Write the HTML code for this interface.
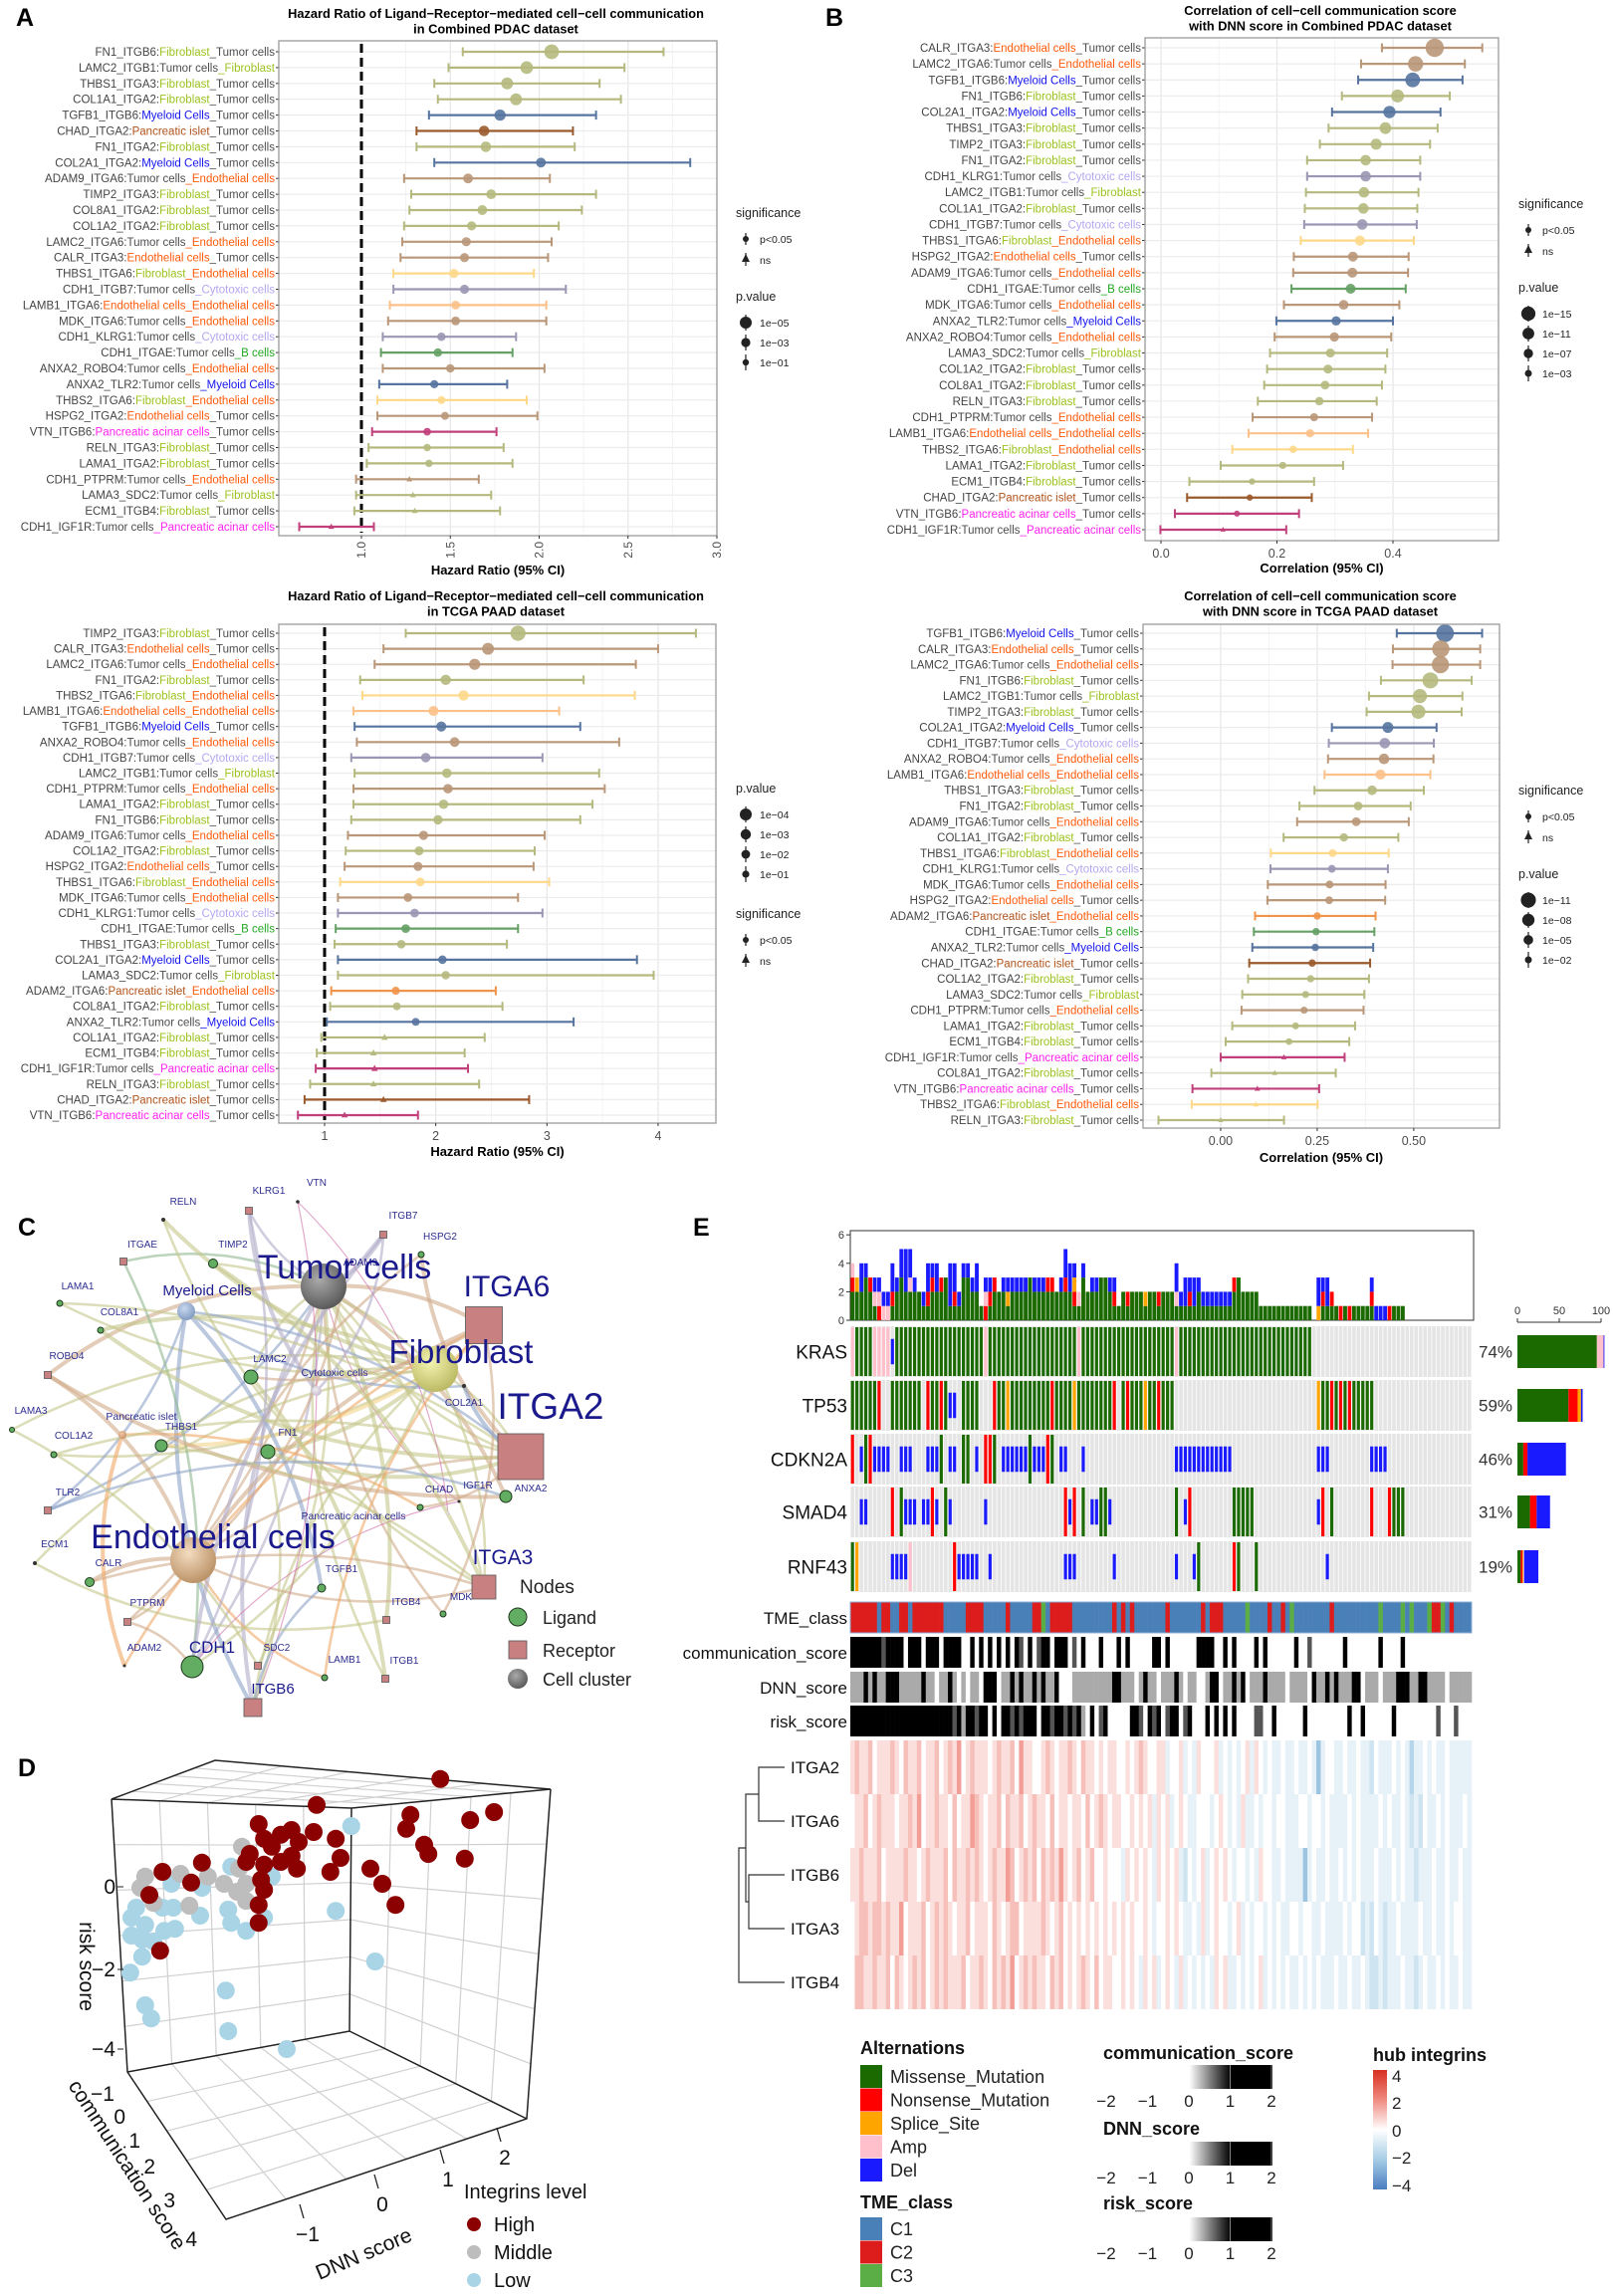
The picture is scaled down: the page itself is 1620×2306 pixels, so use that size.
<!DOCTYPE html>
<html><head><meta charset="utf-8"><title>Integrin figure</title>
<style>
html,body{margin:0;padding:0;background:#fff;}
svg{display:block;font-family:"Liberation Sans",Arial,sans-serif;}
</style></head>
<body>
<svg id="fig" width="1620" height="2306" viewBox="0 0 1620 2306" xmlns="http://www.w3.org/2000/svg">
<rect x="0" y="0" width="1620" height="2306" fill="#fff"/>
<defs>
<radialGradient id="gGray" cx="0.4" cy="0.35" r="0.7"><stop offset="0" stop-color="#aaa"/><stop offset="1" stop-color="#555"/></radialGradient>
<radialGradient id="gYel" cx="0.4" cy="0.35" r="0.7"><stop offset="0" stop-color="#f4f4b0"/><stop offset="1" stop-color="#b8b660"/></radialGradient>
<radialGradient id="gTan" cx="0.4" cy="0.35" r="0.7"><stop offset="0" stop-color="#f4dcc0"/><stop offset="1" stop-color="#b88e62"/></radialGradient>
<radialGradient id="gBlu" cx="0.4" cy="0.35" r="0.7"><stop offset="0" stop-color="#c8d8ee"/><stop offset="1" stop-color="#7e98c0"/></radialGradient>
<radialGradient id="gLav" cx="0.4" cy="0.35" r="0.7"><stop offset="0" stop-color="#eee"/><stop offset="1" stop-color="#c8b8d0"/></radialGradient>
<radialGradient id="gOr" cx="0.4" cy="0.35" r="0.7"><stop offset="0" stop-color="#f0c8a8"/><stop offset="1" stop-color="#c89068"/></radialGradient>
<linearGradient id="gScore" x1="0" x2="1" y1="0" y2="0"><stop offset="0" stop-color="#fff"/><stop offset="0.5" stop-color="#fff"/><stop offset="0.75" stop-color="#000"/><stop offset="1" stop-color="#000"/></linearGradient>
<linearGradient id="gHub" x1="0" x2="0" y1="0" y2="1"><stop offset="0" stop-color="#d7301f"/><stop offset="0.25" stop-color="#ef8a80"/><stop offset="0.5" stop-color="#ffffff"/><stop offset="0.75" stop-color="#a6cde6"/><stop offset="1" stop-color="#4a7cc0"/></linearGradient>
</defs>
</svg>
<script>
// ================= DATA =================
const catName={Fib:'Fibroblast',Tumor:'Tumor cells',Endo:'Endothelial cells',Myel:'Myeloid Cells',Islet:'Pancreatic islet',Cyto:'Cytotoxic cells',B:'B cells',Acinar:'Pancreatic acinar cells'};
const catColor={Fib:'#9cc21f',Tumor:'#4d4d4d',Endo:'#ff5a0a',Myel:'#1414ee',Islet:'#b0521a',Cyto:'#b5a6ee',B:'#22a822',Acinar:'#ff22ee'};
const pairColor={Fib_Tumor:'#b5b97e',Tumor_Fib:'#b5b97e',Myel_Tumor:'#56749f',Tumor_Myel:'#56749f',Islet_Tumor:'#9a5a2c',Tumor_Endo:'#b99778',Endo_Tumor:'#b99778',Fib_Endo:'#fdd889',Tumor_Cyto:'#9b96b3',Endo_Endo:'#fcc089',Tumor_B:'#65a065',Acinar_Tumor:'#c1407c',Tumor_Acinar:'#c1407c',Islet_Endo:'#ef944a'};

const aTopLabels=["FN1_ITGB6|Fib|Tumor","LAMC2_ITGB1|Tumor|Fib","THBS1_ITGA3|Fib|Tumor","COL1A1_ITGA2|Fib|Tumor","TGFB1_ITGB6|Myel|Tumor","CHAD_ITGA2|Islet|Tumor","FN1_ITGA2|Fib|Tumor","COL2A1_ITGA2|Myel|Tumor","ADAM9_ITGA6|Tumor|Endo","TIMP2_ITGA3|Fib|Tumor","COL8A1_ITGA2|Fib|Tumor","COL1A2_ITGA2|Fib|Tumor","LAMC2_ITGA6|Tumor|Endo","CALR_ITGA3|Endo|Tumor","THBS1_ITGA6|Fib|Endo","CDH1_ITGB7|Tumor|Cyto","LAMB1_ITGA6|Endo|Endo","MDK_ITGA6|Tumor|Endo","CDH1_KLRG1|Tumor|Cyto","CDH1_ITGAE|Tumor|B","ANXA2_ROBO4|Tumor|Endo","ANXA2_TLR2|Tumor|Myel","THBS2_ITGA6|Fib|Endo","HSPG2_ITGA2|Endo|Tumor","VTN_ITGB6|Acinar|Tumor","RELN_ITGA3|Fib|Tumor","LAMA1_ITGA2|Fib|Tumor","CDH1_PTPRM|Tumor|Endo","LAMA3_SDC2|Tumor|Fib","ECM1_ITGB4|Fib|Tumor","CDH1_IGF1R|Tumor|Acinar"];
const aTopEst=[2.07,1.93,1.82,1.87,1.78,1.69,1.70,2.01,1.60,1.73,1.68,1.62,1.59,1.58,1.52,1.58,1.53,1.53,1.45,1.43,1.50,1.41,1.45,1.47,1.37,1.37,1.38,1.27,1.29,1.30,0.83];
const aTopLo=[1.57,1.49,1.41,1.43,1.38,1.31,1.31,1.41,1.24,1.28,1.27,1.24,1.23,1.22,1.18,1.18,1.16,1.15,1.12,1.11,1.12,1.10,1.09,1.09,1.06,1.04,1.03,0.97,0.97,0.96,0.65];
const aTopHi=[2.70,2.48,2.34,2.46,2.32,2.19,2.20,2.85,2.06,2.32,2.24,2.11,2.07,2.05,1.97,2.15,2.04,2.04,1.87,1.85,2.03,1.82,1.93,1.99,1.76,1.80,1.85,1.66,1.73,1.78,1.07];
const aTopNlp=[7,5.5,5,5,4.5,4,4,3.5,3.5,3.5,3.5,3,3,3,3,3,2.8,2.8,2.5,2.5,2.5,2.3,2.2,2.2,2,1.8,1.8,1.2,1.2,1.2,1.1];
const aTopTicks=[1.0,1.5,2.0,2.5,3.0];

const aBotLabels=["TIMP2_ITGA3|Fib|Tumor","CALR_ITGA3|Endo|Tumor","LAMC2_ITGA6|Tumor|Endo","FN1_ITGA2|Fib|Tumor","THBS2_ITGA6|Fib|Endo","LAMB1_ITGA6|Endo|Endo","TGFB1_ITGB6|Myel|Tumor","ANXA2_ROBO4|Tumor|Endo","CDH1_ITGB7|Tumor|Cyto","LAMC2_ITGB1|Tumor|Fib","CDH1_PTPRM|Tumor|Endo","LAMA1_ITGA2|Fib|Tumor","FN1_ITGB6|Fib|Tumor","ADAM9_ITGA6|Tumor|Endo","COL1A2_ITGA2|Fib|Tumor","HSPG2_ITGA2|Endo|Tumor","THBS1_ITGA6|Fib|Endo","MDK_ITGA6|Tumor|Endo","CDH1_KLRG1|Tumor|Cyto","CDH1_ITGAE|Tumor|B","THBS1_ITGA3|Fib|Tumor","COL2A1_ITGA2|Myel|Tumor","LAMA3_SDC2|Tumor|Fib","ADAM2_ITGA6|Islet|Endo","COL8A1_ITGA2|Fib|Tumor","ANXA2_TLR2|Tumor|Myel","COL1A1_ITGA2|Fib|Tumor","ECM1_ITGB4|Fib|Tumor","CDH1_IGF1R|Tumor|Acinar","RELN_ITGA3|Fib|Tumor","CHAD_ITGA2|Islet|Tumor","VTN_ITGB6|Acinar|Tumor"];
const aBotEst=[2.74,2.47,2.35,2.09,2.25,1.98,2.05,2.17,1.91,2.10,2.11,2.07,2.02,1.89,1.85,1.84,1.86,1.75,1.81,1.73,1.69,2.06,2.09,1.64,1.65,1.82,1.54,1.44,1.45,1.44,1.53,1.18];
const aBotLo=[1.73,1.53,1.45,1.32,1.34,1.26,1.27,1.29,1.24,1.27,1.26,1.26,1.24,1.21,1.19,1.18,1.14,1.12,1.12,1.10,1.09,1.12,1.12,1.06,1.05,1.02,0.97,0.93,0.92,0.87,0.82,0.76];
const aBotHi=[4.34,4.00,3.80,3.33,3.79,3.11,3.30,3.65,2.96,3.47,3.52,3.41,3.30,2.98,2.89,2.88,3.02,2.74,2.96,2.74,2.64,3.81,3.96,2.54,2.60,3.24,2.44,2.26,2.29,2.39,2.84,1.84];
const aBotNlp=[6,4,3.5,3,3,2.8,2.8,2.6,2.5,2.5,2.5,2.5,2.4,2.3,2.2,2.2,2.0,2.0,2.0,2.0,1.9,1.9,1.8,1.6,1.5,1.4,1.2,1.2,1.2,1.1,1.1,1.0];
const aBotTicks=[1,2,3,4];

const bTopLabels=["CALR_ITGA3|Endo|Tumor","LAMC2_ITGA6|Tumor|Endo","TGFB1_ITGB6|Myel|Tumor","FN1_ITGB6|Fib|Tumor","COL2A1_ITGA2|Myel|Tumor","THBS1_ITGA3|Fib|Tumor","TIMP2_ITGA3|Fib|Tumor","FN1_ITGA2|Fib|Tumor","CDH1_KLRG1|Tumor|Cyto","LAMC2_ITGB1|Tumor|Fib","COL1A1_ITGA2|Fib|Tumor","CDH1_ITGB7|Tumor|Cyto","THBS1_ITGA6|Fib|Endo","HSPG2_ITGA2|Endo|Tumor","ADAM9_ITGA6|Tumor|Endo","CDH1_ITGAE|Tumor|B","MDK_ITGA6|Tumor|Endo","ANXA2_TLR2|Tumor|Myel","ANXA2_ROBO4|Tumor|Endo","LAMA3_SDC2|Tumor|Fib","COL1A2_ITGA2|Fib|Tumor","COL8A1_ITGA2|Fib|Tumor","RELN_ITGA3|Fib|Tumor","CDH1_PTPRM|Tumor|Endo","LAMB1_ITGA6|Endo|Endo","THBS2_ITGA6|Fib|Endo","LAMA1_ITGA2|Fib|Tumor","ECM1_ITGB4|Fib|Tumor","CHAD_ITGA2|Islet|Tumor","VTN_ITGB6|Acinar|Tumor","CDH1_IGF1R|Tumor|Acinar"];
const bTopEst=[0.472,0.439,0.434,0.408,0.394,0.387,0.371,0.353,0.353,0.350,0.349,0.347,0.343,0.331,0.330,0.327,0.315,0.302,0.299,0.292,0.288,0.283,0.273,0.264,0.257,0.228,0.210,0.157,0.153,0.131,0.107];
const bTopLo=[0.381,0.345,0.340,0.312,0.295,0.289,0.274,0.252,0.252,0.250,0.248,0.247,0.241,0.229,0.228,0.225,0.212,0.199,0.196,0.188,0.183,0.178,0.167,0.158,0.151,0.123,0.103,0.049,0.045,0.024,-0.001];
const bTopHi=[0.554,0.524,0.520,0.498,0.482,0.477,0.464,0.447,0.447,0.444,0.442,0.441,0.436,0.427,0.426,0.422,0.411,0.400,0.397,0.390,0.387,0.381,0.372,0.364,0.357,0.331,0.314,0.264,0.260,0.238,0.216];
const bTopNlp=[22,17,16,13,12,11,10,9,9,9,9,9,8.5,8,8,8,7.5,7,7,6.5,6.5,6,5.5,5,5,4,3.5,2,2,1.6,1.2];
const bTopTicks=[0.0,0.2,0.4];

const bBotLabels=["TGFB1_ITGB6|Myel|Tumor","CALR_ITGA3|Endo|Tumor","LAMC2_ITGA6|Tumor|Endo","FN1_ITGB6|Fib|Tumor","LAMC2_ITGB1|Tumor|Fib","TIMP2_ITGA3|Fib|Tumor","COL2A1_ITGA2|Myel|Tumor","CDH1_ITGB7|Tumor|Cyto","ANXA2_ROBO4|Tumor|Endo","LAMB1_ITGA6|Endo|Endo","THBS1_ITGA3|Fib|Tumor","FN1_ITGA2|Fib|Tumor","ADAM9_ITGA6|Tumor|Endo","COL1A1_ITGA2|Fib|Tumor","THBS1_ITGA6|Fib|Endo","CDH1_KLRG1|Tumor|Cyto","MDK_ITGA6|Tumor|Endo","HSPG2_ITGA2|Endo|Tumor","ADAM2_ITGA6|Islet|Endo","CDH1_ITGAE|Tumor|B","ANXA2_TLR2|Tumor|Myel","CHAD_ITGA2|Islet|Tumor","COL1A2_ITGA2|Fib|Tumor","LAMA3_SDC2|Tumor|Fib","CDH1_PTPRM|Tumor|Endo","LAMA1_ITGA2|Fib|Tumor","ECM1_ITGB4|Fib|Tumor","CDH1_IGF1R|Tumor|Acinar","COL8A1_ITGA2|Fib|Tumor","VTN_ITGB6|Acinar|Tumor","THBS2_ITGA6|Fib|Endo","RELN_ITGA3|Fib|Tumor"];
const bBotEst=[0.581,0.570,0.569,0.543,0.516,0.512,0.433,0.425,0.423,0.414,0.392,0.356,0.351,0.319,0.290,0.288,0.282,0.281,0.250,0.247,0.245,0.237,0.233,0.220,0.216,0.194,0.177,0.164,0.140,0.095,0.091,0.000];
const bBotLo=[0.456,0.446,0.445,0.415,0.384,0.378,0.288,0.280,0.278,0.269,0.243,0.204,0.198,0.163,0.130,0.129,0.122,0.121,0.089,0.086,0.082,0.074,0.071,0.056,0.054,0.030,0.013,0.000,-0.024,-0.073,-0.075,-0.161];
const bBotHi=[0.677,0.672,0.672,0.650,0.626,0.624,0.559,0.552,0.551,0.543,0.526,0.492,0.487,0.460,0.435,0.433,0.427,0.426,0.401,0.398,0.395,0.387,0.384,0.372,0.370,0.348,0.333,0.321,0.298,0.255,0.251,0.164];
const bBotNlp=[14,13.5,13.5,12,10,10,6.5,6,6,5.5,5,4,4,3.5,3,3,3,3,2.5,2.5,2.5,2.5,2.3,2.2,2.2,2,1.8,1.2,1.2,1.2,1.2,1.1];
const bBotTicks=[0.00,0.25,0.50];

// Panel D data
const dnnScore=[2.37,0.30,1.87,2.87,3.27,-0.67,1.80,0.25,-0.12,0.62,2.10,-0.58,-0.30,0.00,-0.45,2.17,0.70,2.78,-0.12,-0.88,-0.58,-1.62,-0.03,0.53,1.20,-2.28,-0.63,1.40,-1.80,-2.50,-0.58,1.62,-0.67,-0.67,-2.32,-0.82,-0.30,
 -0.95,-2.57,-1.98,-1.52,-1.25,-2.65,-1.03,-0.88,-2.43,-1.83,-0.88,-1.00,
 0.88,-0.45,-1.13,-2.13,-1.62,-2.72,-2.28,-2.10,-1.65,-2.80,0.62,-1.18,-1.13,-0.58,-2.57,-2.80,-2.25,-2.07,-0.88,-2.62,-2.43,-2.62,1.28,-2.82,-1.22,-2.57,-2.47,-1.18,-0.20];
const riskScore=[2.83,2.18,1.93,1.80,2.00,1.70,1.58,1.50,1.55,1.33,1.18,1.33,1.43,1.25,1.13,0.95,0.85,0.83,0.90,0.75,0.68,0.73,0.58,0.50,0.58,0.50,0.30,0.20,0.23,-0.08,0.05,-0.33,-0.33,-0.78,-1.48,0.95,0.75,
 1.13,0.38,0.45,0.38,0.20,0.10,0.00,0.20,-0.28,-0.35,-0.23,0.58,
 1.65,0.38,0.63,0.20,0.10,-0.40,-0.40,-0.40,-0.60,-0.65,-0.48,-0.45,-0.78,-0.65,-0.83,-1.10,-0.98,-0.93,-0.98,-1.20,-1.25,-1.63,-1.75,-2.03,-2.48,-2.85,-3.18,-3.50,-3.95];
const integrinLevel="HHHHHHHHHHHHHHHHHHHHHHHHHHHHHHHHHHHHHMMMMMMMMMMMMLLLLLLLLLLLLLLLLLLLLLLLLLLLLL";

// Panel E data
const geneNames=['KRAS','TP53','CDKN2A','SMAD4','RNF43'];
const genePct=['74%','59%','46%','31%','19%'];
const krasAlt="AMMMMAAAAD"+"MMMMMMMMMM"+"MMMMMMMMMM"+"AMMMMMMMMM"+"MMMMMMMMMM"+"MAMMMMMMMM"+"MMMMMMMMMM"+"MMMAMMMMMM"+"MMMMMMMMMM"+"MMMMMMMMMM"+"MMMM......"+".........."+".........."+"..........";
const tp53Alt="MMMMMMN..M"+"MMMMMM.NMM"+"NMDD.MMMM."+"..NMMSMMMM"+"MMMMMNMMMM"+"SMMMMMMMMN"+".MNMMMSMMN"+"MMM......."+".........."+".........."+".....SMMNM"+"NMNMMMMM.."+".........."+"..........";
const cdkn2aAlt="N.DMNDDDD."+".DDD...DDD"+"M.DD.MM.D."+"NNM.DDDDDD"+"MDDDNM.DD."+"..D......."+".........."+"...DDDDDDD"+"DDDDDD...."+".........."+".....DDD.."+".......DDD"+"D........."+"..........";
const smad4Alt="..DD.....N"+".MDDD.DDND"+".MD......."+"D........."+"........ND"+"N.M.DDMMD."+".........."+"...M.DN..."+"......MMMM"+"M........."+".....DN.M."+".......N.."+".NMMM....."+"..........";
const rnf43Alt="MS.......D"+"DDDA......"+"...NDDDDD."+".D........"+"........DD"+"D........D"+".........."+"...D...DM."+"......NM.."+".M........"+".......D.."+".........."+".........."+"..........";
const tmeClass="2222221221"+"1221222222"+"2111112222"+"1111121111"+"1223122222"+"1111111112"+"1212111111"+"1211111112"+"1222111113"+"1111211213"+"1111111121"+"1111111113"+"1111313111"+"3223121111";
const commScore="9979987597"+"9909970699"+"3979930837"+"3907390950"+"9359608790"+"5390039300"+"9390030369"+"0830300099"+"9930939300"+"0939300300"+"9305330000"+"0630003009"+"3000730003"+"0300000000";
const dnnRow="4449494489"+"9444449443"+"4494040440"+"9990449494"+"4949449333"+"4444444449"+"9444049440"+"4449404403"+"4990449493"+"4449444404"+"4440944949"+"4449904440"+"4449994499"+"4444044444";
const riskRow="9999999999"+"9999979999"+"9975749957"+"9090995959"+"9909959959"+"5940905930"+"3339950959"+"3599059300"+"9393939303"+"0550393000"+"3390330300"+"0390390300"+"3390300000"+"0050005000";
const hubNames=['ITGA2','ITGA6','ITGB6','ITGA3','ITGB4'];
const hubITGA2="5655645556"+"5465564556"+"4565745655"+"5456556475"+"5445654556"+"5465545455"+"4454565445"+"5344534354"+"4453434345"+"3543433433"+"4334303443"+"3433433243"+"3343431334"+"3433433333";
const hubITGA6="4556456555"+"4556574556"+"5546455765"+"4556465564"+"5655464554"+"5546456545"+"5445454535"+"4534543344"+"4345434353"+"3434434433"+"3443443433"+"3343433334"+"3433432324"+"3343433343";
const hubITGB6="5565556455"+"5565545655"+"5646556565"+"4565576456"+"5646565754"+"5645644544"+"4354545435"+"4545324345"+"3454543443"+"4354433433"+"3303433433"+"4343433343"+"3343433233"+"3433433433";
const hubITGA3="4566566565"+"5745556456"+"5654556455"+"5465456645"+"5556545645"+"4545454545"+"4545445434"+"4545433435"+"3454434534"+"3443434334"+"4344334333"+"3434423243"+"2334333343"+"3433434433";
const hubITGB4="4665565564"+"6545656456"+"5655564556"+"5465657456"+"5655465645"+"4565464554"+"4545435453"+"4543534343"+"4354533434"+"3453434343"+"3434343334"+"3343343223"+"2333433234"+"3343433433";

// ================= HELPERS =================
const NS='http://www.w3.org/2000/svg';
const svg=document.getElementById('fig');
function mk(tag,attrs,parent){const e=document.createElementNS(NS,tag);for(const k in attrs)e.setAttribute(k,attrs[k]);(parent||svg).appendChild(e);return e;}
function txt(s,attrs,parent){const e=mk('text',attrs,parent);e.textContent=s;return e;}

[['A',16,26],['B',829,26],['C',18,1241],['D',18,1784],['E',696,1241]].forEach(p=>{
  const t=txt(p[0],{x:p[1],y:p[2],'font-size':25,'font-weight':'bold',fill:'#000'});
  
  
});

// ================= FOREST PLOTS =================
function forest(cfg){
  const g=mk('g',{});
  
  
  const [L,T,R,B]=cfg.box;
  const sx=v=>L+(v-cfg.xmin)/(cfg.xmax-cfg.xmin)*(R-L);
  const n=cfg.labels.length;
  const sy=i=>cfg.y0+(cfg.y1-cfg.y0)*i/(n-1);
  const bg=mk('rect',{x:L,y:T,width:R-L,height:B-T,fill:'#fff'},g);
  
  
  for(let k=0;k<cfg.ticks.length-1;k++){
    const m=(cfg.ticks[k]+cfg.ticks[k+1])/2;
    const gl=mk('line',{x1:sx(m),x2:sx(m),y1:T,y2:B,stroke:'#f3f3f3','stroke-width':1},g);
    
    
  }
  cfg.ticks.forEach(t=>{
    const gl=mk('line',{x1:sx(t),x2:sx(t),y1:T,y2:B,stroke:'#e6e6e6','stroke-width':1.2},g);
    
    
  });
  for(let i=0;i<n;i++){
    const hl=mk('line',{x1:L,x2:R,y1:sy(i),y2:sy(i),stroke:'#ececec','stroke-width':1.2},g);
    
    
  }
  if(cfg.ref!==undefined){
    const rl=mk('line',{x1:sx(cfg.ref),x2:sx(cfg.ref),y1:T+3,y2:B-3,stroke:'#000','stroke-width':3,'stroke-dasharray':'9,5'},g);
    
    
  }
  for(let i=0;i<n;i++){
    const parts=cfg.labels[i].split('|');
    const col=pairColor[parts[1]+'_'+parts[2]]||'#999';
    const y=sy(i);
    const row=mk('g',{},g);
    
    
    const ci=mk('line',{x1:sx(cfg.lo[i]),x2:sx(cfg.hi[i]),y1:y,y2:y,stroke:col,'stroke-width':2.2},row);
    
    
    [cfg.lo[i],cfg.hi[i]].forEach(v=>{
      const c=mk('line',{x1:sx(v),x2:sx(v),y1:y-4.5,y2:y+4.5,stroke:col,'stroke-width':2},row);
      
      
    });
    const r=cfg.rad(cfg.nlp[i]);
    const px=sx(cfg.est[i]);
    let pt;
    if(cfg.nlp[i]>=1.3){
      pt=mk('circle',{cx:px,cy:y,r:r,fill:col,'fill-opacity':0.9},row);
    }else{
      const h=r*1.6;
      pt=mk('polygon',{points:`${px},${y-h*0.6} ${px-h*0.55},${y+h*0.4} ${px+h*0.55},${y+h*0.4}`,fill:col},row);
    }
    
    
    const tm=mk('line',{x1:L-3,x2:L,y1:y,y2:y,stroke:'#333','stroke-width':1},row);
    
    
    const lab=mk('text',{x:L-4,y:y+4,'text-anchor':'end','font-size':11.5,fill:'#444'},row);
    
    
    const t1=mk('tspan',{},lab); t1.textContent=parts[0]+':';
    const t2=mk('tspan',{fill:catColor[parts[1]]},lab); t2.textContent=catName[parts[1]];
    const t3=mk('tspan',{fill:catColor[parts[2]]},lab); t3.textContent='_'+catName[parts[2]];
  }
  const border=mk('rect',{x:L,y:T,width:R-L,height:B-T,fill:'none',stroke:'#9a9a9a','stroke-width':1.3},g);
  
  
  cfg.ticks.forEach((t,k)=>{
    const tk=mk('line',{x1:sx(t),x2:sx(t),y1:B,y2:B+3,stroke:'#333','stroke-width':1},g);
    
    
    let tl;
    if(cfg.rotate){
      tl=txt(cfg.tickText[k],{x:sx(t)+4,y:B+6,'text-anchor':'end','font-size':12,fill:'#4d4d4d',transform:`rotate(-90 ${sx(t)+4} ${B+6})`},g);
    }else{
      tl=txt(cfg.tickText[k],{x:sx(t),y:B+17,'text-anchor':'middle','font-size':12.5,fill:'#4d4d4d'},g);
    }
    
    
  });
  const at=txt(cfg.xtitle,{x:(L+R)/2,y:cfg.xtitleY,'text-anchor':'middle','font-size':13,'font-weight':'bold',fill:'#000'},g);
  
  
  cfg.title.forEach((s,k)=>{
    const tt=txt(s,{x:cfg.titleX,y:cfg.titleY+k*15.5,'text-anchor':'middle','font-size':12.8,'font-weight':'bold',fill:'#000'},g);
    
    
  });
  const lx=cfg.legX;
  function sigLegend(y){
    const h=txt('significance',{x:lx,y:y,'font-size':12.5,fill:'#222'},g);
    
    
    const e1=mk('g',{},g);
    
    
    mk('line',{x1:lx+10,x2:lx+10,y1:y+16,y2:y+28,stroke:'#222','stroke-width':1.2},e1);
    mk('circle',{cx:lx+10,cy:y+22,r:3,fill:'#222'},e1);
    txt('p<0.05',{x:lx+24,y:y+26,'font-size':10.5,fill:'#222'},e1);
    const e2=mk('g',{},g);
    
    
    mk('line',{x1:lx+10,x2:lx+10,y1:y+36,y2:y+49,stroke:'#222','stroke-width':1.2},e2);
    mk('polygon',{points:`${lx+10},${y+37} ${lx+6},${y+45} ${lx+14},${y+45}`,fill:'#222'},e2);
    txt('ns',{x:lx+24,y:y+47,'font-size':10.5,fill:'#222'},e2);
  }
  function pLegend(y){
    const h=txt('p.value',{x:lx,y:y,'font-size':12.5,fill:'#222'},g);
    
    
    cfg.pLeg.forEach((v,k)=>{
      const yy=y+22+k*20;
      const e=mk('g',{},g);
      
      
      mk('line',{x1:lx+10,x2:lx+10,y1:yy-8,y2:yy+8,stroke:'#222','stroke-width':1.2},e);
      mk('circle',{cx:lx+10,cy:yy,r:cfg.rad(v),fill:'#222'},e);
      txt('1e\u2212'+String(v).padStart(2,'0'),{x:lx+24,y:yy+4,'font-size':10.5,fill:'#222'},e);
    });
  }
  if(cfg.sigFirst){sigLegend(cfg.legY);pLegend(cfg.legY+84);}else{pLegend(cfg.legY);sigLegend(cfg.legY+126);}
}

forest({name:'forest-hr-combined',box:[280,41,720,538],xmin:0.535,xmax:3.0,y0:52,y1:529,labels:aTopLabels,est:aTopEst,lo:aTopLo,hi:aTopHi,nlp:aTopNlp,ticks:aTopTicks,tickText:['1.0','1.5','2.0','2.5','3.0'],rotate:true,ref:1,rad:v=>2.5+0.7*v,xtitle:'Hazard Ratio (95% CI)',xtitleY:577,title:['Hazard Ratio of Ligand\u2212Receptor\u2212mediated cell\u2212cell communication','in Combined PDAC dataset'],titleX:498,titleY:18,legX:739,legY:218,sigFirst:true,pLeg:[5,3,1]});
forest({name:'forest-hr-tcga',box:[280,627,719,1128],xmin:0.588,xmax:4.52,y0:636,y1:1120,labels:aBotLabels,est:aBotEst,lo:aBotLo,hi:aBotHi,nlp:aBotNlp,ticks:aBotTicks,tickText:['1','2','3','4'],rotate:false,ref:1,rad:v=>2.8+0.8*v,xtitle:'Hazard Ratio (95% CI)',xtitleY:1161,title:['Hazard Ratio of Ligand\u2212Receptor\u2212mediated cell\u2212cell communication','in TCGA PAAD dataset'],titleX:498,titleY:603,legX:739,legY:796,sigFirst:false,pLeg:[4,3,2,1]});
forest({name:'forest-cor-combined',box:[1150,38,1505,543],xmin:-0.0275,xmax:0.582,y0:48,y1:532,labels:bTopLabels,est:bTopEst,lo:bTopLo,hi:bTopHi,nlp:bTopNlp,ticks:bTopTicks,tickText:['0.0','0.2','0.4'],rotate:false,rad:v=>2.6+0.3*v,xtitle:'Correlation (95% CI)',xtitleY:575,title:['Correlation of cell\u2212cell communication score','with DNN score in Combined PDAC dataset'],titleX:1326,titleY:15,legX:1525,legY:209,sigFirst:true,pLeg:[15,11,7,3]});
forest({name:'forest-cor-tcga',box:[1148,627,1506,1133],xmin:-0.201,xmax:0.722,y0:636,y1:1125,labels:bBotLabels,est:bBotEst,lo:bBotLo,hi:bBotHi,nlp:bBotNlp,ticks:bBotTicks,tickText:['0.00','0.25','0.50'],rotate:false,rad:v=>2.6+0.45*v,xtitle:'Correlation (95% CI)',xtitleY:1167,title:['Correlation of cell\u2212cell communication score','with DNN score in TCGA PAAD dataset'],titleX:1326,titleY:603,legX:1525,legY:798,sigFirst:true,pLeg:[11,8,5,2]});

// ================= PANEL C NETWORK =================
const netNodes=[
 ['VTN',299,1207,'dot',1.8,318,1191,10],['KLRG1',250,1216,'rec',3.5,270,1199,10],['RELN',164,1225,'dot',2,184,1210,10],
 ['ITGB7',385,1240,'rec',3.5,405,1224,10],['HSPG2',423,1260,'lig',3,442,1245,10],['ITGAE',124,1267,'rec',3.5,143,1253,10],
 ['TIMP2',214,1269,'lig',4.5,234,1253,10],['ADAM9',345,1285,'dot',2,362,1271,10],['LAMA1',60,1309,'lig',3,78,1295,10],
 ['COL8A1',101,1336,'lig',3,120,1321,10],['ROBO4',48,1381,'rec',3.5,67,1365,10],['LAMC2',252,1383,'lig',7,271,1368,10],
 ['COL2A1',466,1392,'dot',2,466,1412,10],['LAMA3',12,1436,'lig',2.5,31,1420,10],['THBS1',162,1452,'lig',6,182,1436,10],
 ['COL1A2',54,1461,'lig',3,74,1445,10],['FN1',269,1458,'lig',7,289,1442,10],['TLR2',48,1517,'rec',3.5,68,1502,10],
 ['CHAD',422,1514,'lig',3,441,1499,10],['IGF1R',461,1508,'dot',1.5,480,1495,10],['ANXA2',508,1503,'lig',6,533,1498,10],
 ['ECM1',35,1570,'dot',2,55,1554,10],['CALR',90,1589,'lig',4.5,109,1573,10],['TGFB1',323,1595,'lig',4,343,1579,10],
 ['ITGB4',388,1627,'rec',3.5,408,1612,10],['MDK',445,1621,'lig',3,463,1607,10],['PTPRM',128,1629,'rec',3.5,148,1613,10],
 ['ADAM2',125,1673,'dot',1.5,145,1658,10],['SDC2',259,1673,'rec',3.5,278,1658,10],['LAMB1',326,1685,'lig',3,346,1670,10],
 ['ITGB1',387,1686,'rec',3.5,406,1671,10],
 ['CDH1',193,1674,'lig',11,213,1660,17],['ITGB6',254,1715,'rec',9,274,1701,15],
 ['ITGA6',486,1331,'rec',18.5,509,1302,30],['ITGA2',523,1463,'rec',23,553,1425,37],['ITGA3',486,1594,'rec',12,505,1571,21],
 ['Myeloid Cells',187,1317,'cellB',9,208,1301,15],['Cytotoxic cells',318,1397,'cellL',5,336,1382,10.5],
 ['Pancreatic islet',123,1441,'cellO',4,142,1426,10.5],['Pancreatic acinar cells',450,1520,'cellL',1.5,355,1526,10.5],
 ['Tumor cells',325,1292,'cellG',23,346,1284,34],['Fibroblast',437,1375,'cellY',23,463,1369,33],['Endothelial cells',194,1567,'cellT',23,214,1555,34]
];
const netEdges=[['Tumor cells','ITGA6','E'],['Tumor cells','ITGA2','F'],['Tumor cells','ITGA3','F'],['Tumor cells','ITGB6','T'],['Tumor cells','CDH1','T'],['Tumor cells','LAMC2','F'],['Tumor cells','ANXA2','E'],['Tumor cells','MDK','E'],['Tumor cells','KLRG1','T'],['Tumor cells','ITGB7','T'],['Tumor cells','SDC2','F'],['Tumor cells','IGF1R','P'],['Tumor cells','ITGB4','F'],['Tumor cells','ITGB1','F'],['Tumor cells','PTPRM','E'],['Tumor cells','ROBO4','E'],['Tumor cells','TLR2','M'],['Tumor cells','ITGAE','G'],['Fibroblast','FN1','F'],['Fibroblast','THBS1','F'],['Fibroblast','COL1A2','F'],['Fibroblast','COL8A1','F'],['Fibroblast','LAMA1','F'],['Fibroblast','TIMP2','F'],['Fibroblast','RELN','F'],['Fibroblast','ECM1','F'],['Fibroblast','ITGA2','F'],['Fibroblast','ITGA6','Y'],['Fibroblast','ITGA3','F'],['Fibroblast','LAMA3','F'],['Fibroblast','THBS1','Y'],['Fibroblast','ITGB6','F'],['Fibroblast','CDH1','F'],['Endothelial cells','CALR','E'],['Endothelial cells','HSPG2','E'],['Endothelial cells','LAMB1','O'],['Endothelial cells','ITGA6','E'],['Endothelial cells','ITGA3','E'],['Endothelial cells','ITGA2','E'],['Endothelial cells','ROBO4','E'],['Endothelial cells','PTPRM','E'],['Endothelial cells','ADAM9','E'],['Myeloid Cells','TGFB1','M'],['Myeloid Cells','COL2A1','M'],['Myeloid Cells','TLR2','M'],['Myeloid Cells','ITGB6','M'],['Myeloid Cells','ITGA2','M'],['Pancreatic acinar cells','VTN','P'],['VTN','ITGB6','P'],['IGF1R','CDH1','P'],['Pancreatic islet','CHAD','O'],['Pancreatic islet','ADAM2','O'],['ADAM2','ITGA6','O'],['CHAD','ITGA2','E'],['Cytotoxic cells','KLRG1','T'],['Cytotoxic cells','ITGB7','T'],['ITGAE','CDH1','G'],['FN1','ITGA2','F'],['FN1','ITGB6','F'],['LAMC2','ITGA6','E'],['LAMC2','ITGB1','F'],['TGFB1','ITGB6','M'],['COL1A2','ITGA2','F'],['COL8A1','ITGA2','F'],['LAMA1','ITGA2','F'],['RELN','ITGA3','F'],['TIMP2','ITGA3','F'],['ECM1','ITGB4','F'],['CALR','ITGA3','E'],['HSPG2','ITGA2','E'],['LAMB1','ITGA6','O'],['MDK','ITGA6','E'],['ANXA2','ROBO4','E'],['ANXA2','TLR2','M'],['THBS1','ITGA3','F'],['COL2A1','ITGA2','M'],['LAMA3','SDC2','F'],['CDH1','KLRG1','T'],['CDH1','ITGB7','T'],['CDH1','PTPRM','E']];
const edgeColor={T:'#b0acc8',F:'#c4c68a',E:'#d0aa88',M:'#8ea4c8',Y:'#f4d48c',P:'#d070a8',G:'#8fb88f',O:'#f0a868'};
(function(){
  const g=mk('g',{});
  
  
  const pos={};netNodes.forEach(n=>pos[n[0]]=n);
  const eg=mk('g',{},g);
  
  
  netEdges.forEach((e,k)=>{
    const a=pos[e[0]],b=pos[e[1]];if(!a||!b)return;
    const dx=b[1]-a[1],dy=b[2]-a[2];const s=(k%2?0.18:-0.15);
    const cx=(a[1]+b[1])/2-dy*s,cy=(a[2]+b[2])/2+dx*s;
    const w=e[2]==='P'?1.2:(k%3===0?4:2.6);
    const p=mk('path',{d:`M${a[1]},${a[2]} Q${cx},${cy} ${b[1]},${b[2]}`,fill:'none',stroke:edgeColor[e[2]],'stroke-width':w,'stroke-opacity':0.6},eg);
    
    
  });
  const fills={cellG:'url(#gGray)',cellY:'url(#gYel)',cellT:'url(#gTan)',cellB:'url(#gBlu)',cellL:'url(#gLav)',cellO:'url(#gOr)'};
  netNodes.forEach(n=>{
    const [name,x,y,type,r,lx,ly,fs]=n;
    const ng=mk('g',{},g);
    
    
    if(type==='rec'){mk('rect',{x:x-r,y:y-r,width:2*r,height:2*r,fill:'#c98080',stroke:'#555','stroke-width':0.8},ng);}
    else if(type==='lig'){mk('circle',{cx:x,cy:y,r:r,fill:'#62ad62',stroke:'#1e3a1e','stroke-width':1},ng);}
    else if(type==='dot'){mk('circle',{cx:x,cy:y,r:r,fill:'#333'},ng);}
    else{mk('circle',{cx:x,cy:y,r:r,fill:fills[type]},ng);}
    const big=fs>=14;
    txt(name,{x:lx,y:ly,'text-anchor':'middle','font-size':fs,fill:big?'#1a1a8c':'#2e2e90'},ng);
  });
  const lg=mk('g',{},g);
  
  
  txt('Nodes',{x:522,y:1600,'font-size':19,fill:'#222'},lg);
  mk('circle',{cx:520,cy:1624,r:9,fill:'#62ad62',stroke:'#1e3a1e','stroke-width':1},lg);
  txt('Ligand',{x:545,y:1631,'font-size':18,fill:'#222'},lg);
  mk('rect',{x:511,y:1648,width:18,height:18,fill:'#c98080',stroke:'#555','stroke-width':0.8},lg);
  txt('Receptor',{x:545,y:1664,'font-size':18,fill:'#222'},lg);
  mk('circle',{cx:520,cy:1686,r:10,fill:'url(#gGray)'},lg);
  txt('Cell cluster',{x:545,y:1693,'font-size':18,fill:'#222'},lg);
})();

// ================= PANEL D 3D SCATTER =================
(function(){
  const g=mk('g',{});
  
  
  const lerp=(a,b,t)=>[a[0]+(b[0]-a[0])*t,a[1]+(b[1]-a[1])*t];
  function wall(p0,p1,p2,p3,nu,nv,name){
    const wg=mk('g',{},g);
    
    
    for(let k=1;k<nu;k++){const a=lerp(p0,p1,k/nu),b=lerp(p3,p2,k/nu);mk('line',{x1:a[0],y1:a[1],x2:b[0],y2:b[1],stroke:'#d0d0d0','stroke-width':1.2},wg);}
    for(let k=1;k<nv;k++){const a=lerp(p0,p3,k/nv),b=lerp(p1,p2,k/nv);mk('line',{x1:a[0],y1:a[1],x2:b[0],y2:b[1],stroke:'#d0d0d0','stroke-width':1.2},wg);}
  }
  const TL=[112,1807],TB=[216,1768],TR=[553,1797],TM=[353,1816],BL=[128,2081],BM=[351,2040],BR=[529,2128],BF=[227,2229];
  wall(TL,TM,BM,BL,5,6,'grid-left-wall');
  wall(TM,TR,BR,BM,5,6,'grid-right-wall');
  wall(BL,BM,BR,BF,5,5,'grid-floor');
  wall(TL,TB,TR,TM,5,5,'grid-top');
  const ol=mk('path',{d:`M${TL} L${TB} L${TR} L${TM} Z M${TL} L${BL} L${BF} L${BR} L${TR} M${TM} L${BM} M${BL} L${BM} L${BR}`,fill:'none',stroke:'#222','stroke-width':1.5},g);
  
  
  const px=(d)=>300+60*d, py=(d,r)=>1900-40*r;
  const cols={H:'#8b0000',M:'#bdbdbd',L:'#a8d4e6'};
  ['L','M','H'].forEach(lv=>{
    for(let i=0;i<dnnScore.length;i++){
      if(integrinLevel[i]!==lv)continue;
      const c=mk('circle',{cx:px(dnnScore[i]),cy:py(dnnScore[i],riskScore[i]),r:9,fill:cols[lv]},g);
      
      
    }
  });
  [[0,1895],[-2,1978],[-4,2058]].forEach(t=>{
    const tl=txt(String(t[0]).replace('-','\u2212'),{x:116,y:t[1]+7,'text-anchor':'end','font-size':21,fill:'#111'},g);
    
    
    mk('line',{x1:118,y1:t[1],x2:124,y2:t[1],stroke:'#222'},g);
  });
  [['\u22121',115,2103],['0',126,2126],['1',141,2150],['2',156,2176],['3',176,2210],['4',198,2249]].forEach(t=>{
    const tl=txt(t[0],{x:t[1],y:t[2]+7,'text-anchor':'end','font-size':21,fill:'#111'},g);
    
    
  });
  [['\u22121',309,2244],['0',384,2214],['1',450,2189],['2',507,2167]].forEach(t=>{
    const tl=txt(t[0],{x:t[1],y:t[2]+7,'text-anchor':'middle','font-size':21,fill:'#111'},g);
    
    
    mk('line',{x1:t[1]-8,y1:t[2]-30,x2:t[1]-4,y2:t[2]-16,stroke:'#222','stroke-width':1.3},g);
  });
  const t1=txt('risk  score',{x:80,y:1975,'text-anchor':'middle','font-size':21,fill:'#111',transform:'rotate(90 80 1975)'},g);
  
  
  const t2=txt('communication score',{x:122,y:2178,'text-anchor':'middle','font-size':21,fill:'#111',transform:'rotate(57 122 2178)'},g);
  
  
  const t3=txt('DNN score',{x:368,y:2270,'text-anchor':'middle','font-size':21,fill:'#111',transform:'rotate(-23 368 2270)'},g);
  
  
  const lg=mk('g',{},g);
  
  
  txt('Integrins level',{x:466,y:2208,'font-size':20,fill:'#111'},lg);
  [['High','#8b0000',2234],['Middle','#bdbdbd',2262],['Low','#a8d4e6',2290]].forEach(e=>{
    mk('circle',{cx:476,cy:e[2],r:7,fill:e[1]},lg);
    txt(e[0],{x:496,y:e[2]+7,'font-size':20,fill:'#111'},lg);
  });
})();

// ================= PANEL E ONCOPRINT =================
(function(){
  const g=mk('g',{});
  
  
  const N=krasAlt.length, X0=854, X1=1478, w=(X1-X0)/N;
  const cx=i=>X0+i*w;
  const altCol={M:'#1b6a00',N:'#ff0000',S:'#ffa500',A:'#ffc0cb',D:'#1a1aff'};
  const alts=[krasAlt,tp53Alt,cdkn2aAlt,smad4Alt,rnf43Alt];
  const rowY=[1332,1386,1440,1493,1548], rowH=51;
  const bt=mk('g',{},g);
  
  
  mk('rect',{x:X0,y:1236,width:X1-X0+2,height:90,fill:'none',stroke:'#333','stroke-width':1},bt);
  const yb=v=>1326-v*14.3;
  [0,2,4,6].forEach(v=>{
    mk('line',{x1:X0-4,x2:X0,y1:yb(v),y2:yb(v),stroke:'#333'},bt);
    const tl=txt(String(v),{x:X0-6,y:yb(v)+4,'text-anchor':'end','font-size':11,fill:'#333'},bt);
    
    
  });
  for(let i=0;i<N;i++){
    let c=0;
    ['M','N','S','A','D'].forEach(t=>{
      let k=0;alts.forEach(s=>{if(s[i]===t)k++;});
      if(k>0){
        const r=mk('rect',{x:cx(i)+0.3,y:yb(c+k),width:w-0.6,height:k*14.3,fill:altCol[t]},bt);
        
        
        c+=k;
      }
    });
  }
  alts.forEach((s,gi)=>{
    const rg=mk('g',{},g);
    
    
    for(let i=0;i<N;i++){
      mk('rect',{x:cx(i)+0.4,y:rowY[gi],width:w-0.8,height:rowH,fill:'#e5e5e5'},rg);
      if(s[i]!=='.'){
        const r=mk('rect',{x:cx(i)+0.6,y:rowY[gi]+(s[i]==='D'?rowH*0.25:1),width:w-1.3,height:s[i]==='D'?rowH*0.5:rowH-2,fill:altCol[s[i]]},rg);
        
        
      }
    }
    const gl=txt(geneNames[gi],{x:851,y:rowY[gi]+rowH/2+7,'text-anchor':'end','font-size':19,fill:'#111'},rg);
    
    
    const pl=txt(genePct[gi],{x:1485,y:rowY[gi]+rowH/2+6,'font-size':17,fill:'#333'},rg);
    
    
    let c=0;
    ['M','N','S','A','D'].forEach(t=>{
      let k=0;for(let i=0;i<N;i++)if(s[i]===t)k++;
      if(k>0){
        const r=mk('rect',{x:1524+c*0.84,y:rowY[gi]+9,width:k*0.84,height:33,fill:altCol[t]},rg);
        
        
        c+=k;
      }
    });
  });
  const ra=mk('g',{},g);
  
  
  mk('line',{x1:1524,x2:1608,y1:1328,y2:1328,stroke:'#333'},ra);
  [0,50,100].forEach(v=>{
    mk('line',{x1:1524+v*0.84,x2:1524+v*0.84,y1:1324,y2:1328,stroke:'#333'},ra);
    txt(String(v),{x:1524+v*0.84,y:1320,'text-anchor':'middle','font-size':11,fill:'#333'},ra);
  });
  const tmeCol={'1':'#4a80b8','2':'#dd1c1c','3':'#5aae45'};
  const annY=[1609,1644,1679,1713];
  const annNames=['TME_class','communication_score','DNN_score','risk_score'];
  const scoreStr=[null,commScore,dnnRow,riskRow];
  annNames.forEach((nm,k)=>{
    const ag=mk('g',{},g);
    
    
    for(let i=0;i<N;i++){
      let fill;
      if(k===0){fill=tmeCol[tmeClass[i]];}
      else{const v=(+scoreStr[k][i]-3)/3;const t=Math.max(0,Math.min(1,v));const c=Math.round(255*(1-t));fill=`rgb(${c},${c},${c})`;}
      mk('rect',{x:cx(i),y:annY[k],width:w+0.3,height:31,fill:fill},ag);
    }
    const l=txt(nm,{x:851,y:annY[k]+22,'text-anchor':'end','font-size':17,fill:'#111'},ag);
    
    
  });
  mk('rect',{x:X0,y:1609,width:X1-X0,height:31,fill:'none',stroke:'#8fb0d8','stroke-width':1},g);
  const hubs=[hubITGA2,hubITGA6,hubITGB6,hubITGA3,hubITGB4];
  const hcol=v=>{const t=Math.min(1,Math.abs(v)/4);let e=v>=0?[215,48,31]:[74,124,192];const f=v>=0?[239,138,128]:[166,205,230];
    let c;if(t<0.5){const u=t/0.5;c=[255+(f[0]-255)*u,255+(f[1]-255)*u,255+(f[2]-255)*u];}else{const u=(t-0.5)/0.5;c=[f[0]+(e[0]-f[0])*u,f[1]+(e[1]-f[1])*u,f[2]+(e[2]-f[2])*u];}
    return `rgb(${c.map(Math.round).join(',')})`;};
  hubs.forEach((s,k)=>{
    const hg=mk('g',{},g);
    
    
    const y=1748+k*54;
    for(let i=0;i<N;i++){
      const v=(+s[i]-4)*0.55;
      mk('rect',{x:cx(i),y:y,width:w+0.3,height:54,fill:hcol(v)},hg);
    }
    const l=txt(hubNames[k],{x:794,y:y+33,'font-size':17,fill:'#111'},hg);
    
    
  });
  const dg=mk('path',{d:'M788,1775 H762 V1829 H788 M788,1883 H752 V1937 H788 M762,1802 H749 V1910 H752 M749,1856 H742 V1991 H788',fill:'none',stroke:'#333','stroke-width':1.2},g);
  
  
  const lg=mk('g',{},g);
  
  
  txt('Alternations',{x:864,y:2063,'font-size':18,'font-weight':'bold',fill:'#111'},lg);
  [['Missense_Mutation','#1b6a00'],['Nonsense_Mutation','#ff0000'],['Splice_Site','#ffa500'],['Amp','#ffc0cb'],['Del','#1a1aff']].forEach((e,k)=>{
    const y=2074+k*23.5;
    const it=mk('g',{},lg);
    
    
    mk('rect',{x:864,y:y,width:22,height:23,fill:e[1]},it);
    txt(e[0],{x:894,y:y+18,'font-size':18,fill:'#222'},it);
  });
  txt('TME_class',{x:864,y:2218,'font-size':18,'font-weight':'bold',fill:'#111'},lg);
  [['C1','#4a80b8'],['C2','#dd1c1c'],['C3','#5aae45']].forEach((e,k)=>{
    const y=2227+k*23.5;
    const it=mk('g',{},lg);
    
    
    mk('rect',{x:864,y:y,width:22,height:23,fill:e[1]},it);
    txt(e[0],{x:894,y:y+18,'font-size':18,fill:'#222'},it);
  });
  [['communication_score',2068,2074],['DNN_score',2144,2151],['risk_score',2219,2227]].forEach(e=>{
    const it=mk('g',{},lg);
    
    
    txt(e[0],{x:1108,y:e[1],'font-size':18,'font-weight':'bold',fill:'#111'},it);
    mk('rect',{x:1111,y:e[2],width:167,height:24,fill:'url(#gScore)'},it);
    ['\u22122','\u22121','0','1','2'].forEach((s,k)=>{
      const x=1111+k*41.5;
      mk('line',{x1:x,x2:x,y1:e[2],y2:e[2]+24,stroke:'#fff','stroke-width':1,'stroke-opacity':0.5},it);
      txt(s,{x:x,y:e[2]+42,'text-anchor':'middle','font-size':17,fill:'#222'},it);
    });
  });
  const hb=mk('g',{},lg);
  
  
  txt('hub integrins',{x:1379,y:2070,'font-size':18,'font-weight':'bold',fill:'#111'},hb);
  mk('rect',{x:1379,y:2079,width:14,height:120,fill:'url(#gHub)'},hb);
  [['4',2085],['2',2112],['0',2140],['\u22122',2167],['\u22124',2195]].forEach(e=>{
    txt(e[0],{x:1398,y:e[1]+6,'font-size':17,fill:'#222'},hb);
  });
})();
</script>
</body></html>
